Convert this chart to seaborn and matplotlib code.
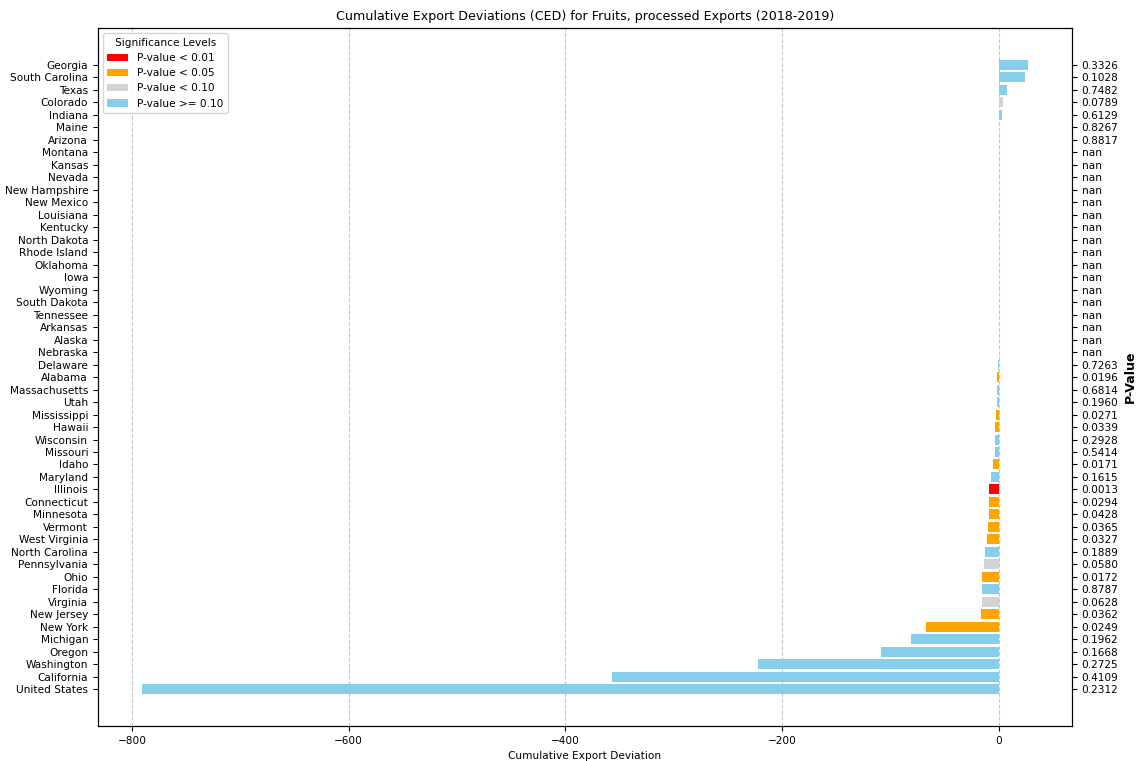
import numpy as np
import pandas as pd
import matplotlib
matplotlib.use("Agg")
import matplotlib.pyplot as plt
from matplotlib.ticker import MultipleLocator
import seaborn as sns

states = ["Georgia", "South Carolina", "Texas", "Colorado", "Indiana", "Maine", "Arizona",
          "Montana", "Kansas", "Nevada", "New Hampshire", "New Mexico", "Louisiana", "Kentucky",
          "North Dakota", "Rhode Island", "Oklahoma", "Iowa", "Wyoming", "South Dakota",
          "Tennessee", "Arkansas", "Alaska", "Nebraska", "Delaware", "Alabama", "Massachusetts",
          "Utah", "Mississippi", "Hawaii", "Wisconsin", "Missouri", "Idaho", "Maryland",
          "Illinois", "Connecticut", "Minnesota", "Vermont", "West Virginia", "North Carolina",
          "Pennsylvania", "Ohio", "Florida", "Virginia", "New Jersey", "New York", "Michigan",
          "Oregon", "Washington", "California", "United States"]

ced = [26.8, 24.0, 7.7, 4.0, 3.5, 0.5, 0.5,
       0, 0, 0, 0, 0, 0, 0,
       0, 0, 0, 0, 0, 0,
       0, 0, 0, 0, -0.6, -1.5, -1.6,
       -2.0, -2.5, -3.0, -3.6, -3.8, -5.5, -7.5,
       -8.5, -8.5, -9.0, -10.0, -11.0, -12.5,
       -14.0, -15.5, -15.5, -15.5, -16.5, -67.5, -81.0,
       -108.7, -222.6, -356.6, -790.8]

pvals = [0.3326, 0.1028, 0.7482, 0.0789, 0.6129, 0.8267, 0.8817,
         np.nan, np.nan, np.nan, np.nan, np.nan, np.nan, np.nan,
         np.nan, np.nan, np.nan, np.nan, np.nan, np.nan,
         np.nan, np.nan, np.nan, np.nan, 0.7263, 0.0196, 0.6814,
         0.1960, 0.0271, 0.0339, 0.2928, 0.5414, 0.0171, 0.1615,
         0.0013, 0.0294, 0.0428, 0.0365, 0.0327, 0.1889,
         0.0580, 0.0172, 0.8787, 0.0628, 0.0362, 0.0249, 0.1962,
         0.1668, 0.2725, 0.4109, 0.2312]

levels = ["P-value < 0.01", "P-value < 0.05", "P-value < 0.10", "P-value >= 0.10"]
level_colors = ["red", "orange", "lightgray", "skyblue"]


def level_of(p):
    if p < 0.01:
        return levels[0]
    if p < 0.05:
        return levels[1]
    if p < 0.10:
        return levels[2]
    return levels[3]


df = pd.DataFrame({"State": states, "CED": ced, "P": pvals})
df["Level"] = [level_of(p) for p in df["P"]]

fs = 7.6
fig, ax = plt.subplots(figsize=(11.38, 7.61), dpi=100)

sns.barplot(data=df, y="State", x="CED", hue="Level", hue_order=levels,
            palette=dict(zip(levels, level_colors)), dodge=False, saturation=1,
            orient="h", width=0.8, ax=ax, legend=True)

n = len(states)
pad = 0.05 * (n - 1 + 0.8) + 0.4
ax.set_ylim(n - 1 + pad, -pad)
xmin, xmax = min(ced), max(ced)
xr = xmax - xmin
ax.set_xlim(xmin - 0.05 * xr, xmax + 0.05 * xr)
ax.xaxis.set_major_locator(MultipleLocator(200))

ax.grid(axis="x", linestyle="--", alpha=0.7)
ax.set_axisbelow(True)
ax.set_ylabel("")
ax.set_xlabel("Cumulative Export Deviation", fontsize=fs)
ax.set_title("Cumulative Export Deviations (CED) for Fruits, processed Exports (2018-2019)", fontsize=9.1)
ax.tick_params(axis="both", labelsize=fs)

leg = ax.legend(title="Significance Levels", loc="upper left", fontsize=fs, title_fontsize=fs)

ax2 = ax.twinx()
ax2.set_ylim(ax.get_ylim())
ax2.set_yticks(range(n))
ax2.set_yticklabels(["nan" if np.isnan(p) else f"{p:.4f}" for p in pvals], fontsize=fs)
ax2.set_ylabel("P-Value", fontsize=9.1, fontweight="bold")

fig.subplots_adjust(left=0.086, right=0.942, top=0.963, bottom=0.046)
fig.savefig("out.png", dpi=100)
